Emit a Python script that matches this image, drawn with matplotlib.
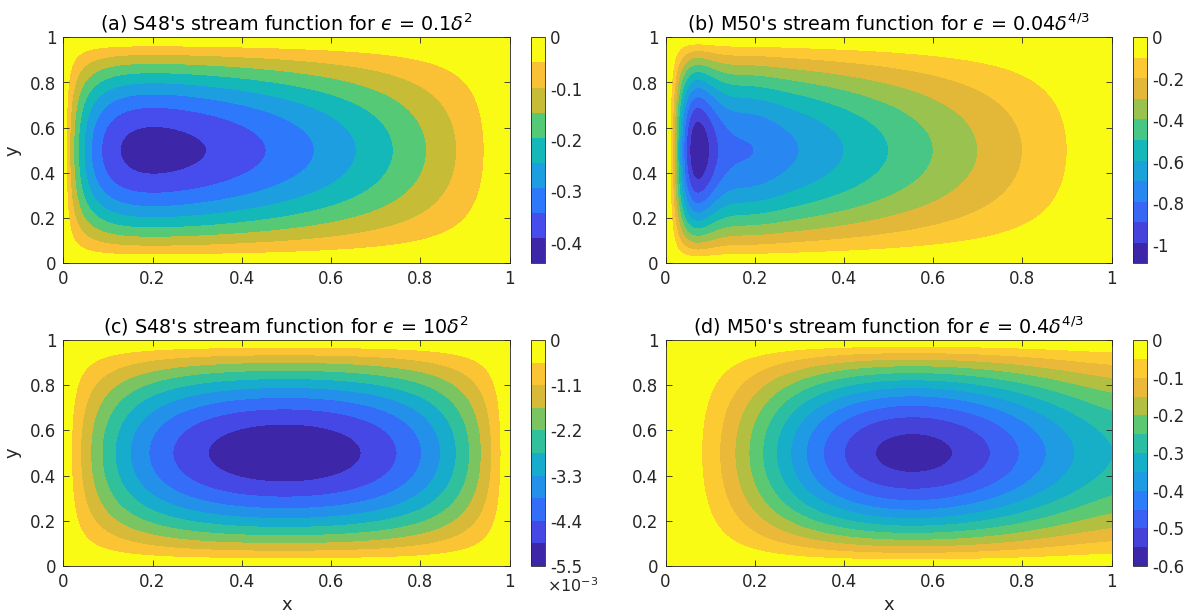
import numpy as np
import matplotlib
matplotlib.use('Agg')
import matplotlib.pyplot as plt
from matplotlib.colors import LinearSegmentedColormap, ListedColormap, Normalize
from matplotlib.cm import ScalarMappable

plt.rcParams['font.family'] = 'DejaVu Sans'
plt.rcParams['axes.unicode_minus'] = False

# panel settings
titles = ["(a) S48's stream function for $\u03f5$ = 0.1$\\delta^2$",
          "(b) M50's stream function for $\u03f5$ = 0.04$\\delta^{4/3}$",
          "(c) S48's stream function for $\u03f5$ = 10$\\delta^2$",
          "(d) M50's stream function for $\u03f5$ = 0.4$\\delta^{4/3}$"]
models = ['S48', 'M50', 'S48', 'M50']
friction = [0.068, 0.021, 6.8, 0.215]     # S48: eps, M50: boundary layer width
kappa = 1.5 * np.pi                        # zonal wavenumber used by S48
cbar_min = [-0.44, -1.09, -5.5e-3, -0.6]
levels = [
    [-0.44, -0.4, -0.35, -0.3, -0.25, -0.2, -0.15, -0.1, -0.05, 0],
    [-1.09, -1.0, -0.9, -0.8, -0.7, -0.6, -0.5, -0.4, -0.3, -0.2, -0.1, 0],
    [-5.5e-3, -4.95e-3, -4.4e-3, -3.85e-3, -3.3e-3, -2.75e-3, -2.2e-3,
     -1.65e-3, -1.1e-3, -0.55e-3, 0],
    [-0.6, -0.55, -0.5, -0.45, -0.4, -0.35, -0.3, -0.25, -0.2, -0.15,
     -0.1, -0.05, 0],
]
cbar_ticks = [
    [-0.4, -0.3, -0.2, -0.1, 0],
    [-1.0, -0.8, -0.6, -0.4, -0.2, 0],
    [-5.5e-3, -4.4e-3, -3.3e-3, -2.2e-3, -1.1e-3, 0],
    [-0.6, -0.5, -0.4, -0.3, -0.2, -0.1, 0],
]
cbar_labels = [
    ['-0.4', '-0.3', '-0.2', '-0.1', '0'],
    ['-1', '-0.8', '-0.6', '-0.4', '-0.2', '0'],
    ['-5.5', '-4.4', '-3.3', '-2.2', '-1.1', '0'],
    ['-0.6', '-0.5', '-0.4', '-0.3', '-0.2', '-0.1', '0'],
]
axis_ticks = [0, 0.2, 0.4, 0.6, 0.8, 1]
axis_ticklabels = ['0', '0.2', '0.4', '0.6', '0.8', '1']

# parula-like colormap
parula = LinearSegmentedColormap.from_list('parula', [
    (0.000, (0.243, 0.150, 0.660)),
    (0.125, (0.275, 0.300, 0.925)),
    (0.250, (0.180, 0.470, 0.985)),
    (0.375, (0.115, 0.620, 0.880)),
    (0.500, (0.075, 0.720, 0.730)),
    (0.625, (0.330, 0.790, 0.470)),
    (0.750, (0.770, 0.740, 0.210)),
    (0.800, (0.890, 0.720, 0.220)),
    (0.850, (0.970, 0.730, 0.240)),
    (0.900, (0.990, 0.780, 0.200)),
    (0.950, (0.965, 0.870, 0.150)),
    (1.000, (0.977, 0.984, 0.081)),
])


def stommel_x(x, eps):
    # eps*(X'' - k^2 X) + X' = 1, X(0) = X(1) = 0
    s = np.sqrt(1 + 4 * kappa ** 2 * eps ** 2)
    r1 = (-1 + s) / (2 * eps)
    r2 = (-1 - s) / (2 * eps)
    a, b = np.linalg.solve([[1, 1], [np.exp(r1), np.exp(r2)]], [1, 1])
    return -(1 - a * np.exp(r1 * x) - b * np.exp(r2 * x)) / (eps * kappa ** 2)


def munk_x(x, d):
    th = np.sqrt(3) * x / (2 * d)
    west = np.exp(-x / (2 * d)) * (np.cos(th) + (1 - 2 * d) / np.sqrt(3) * np.sin(th))
    return x - 1 + west - d * np.exp((x - 1) / d)


x = np.linspace(0, 1, 501)
y = np.linspace(0, 1, 501)
X, Y = np.meshgrid(x, y)

fig = plt.figure(figsize=(11.89, 6.14), dpi=100)
W, H = 1189.0, 614.0
ax_pos = [(63.3, 37.3), (665.5, 37.3), (63.3, 340.0), (665.5, 340.0)]
aw, ah = 446.2, 226.0
tc = (0.15, 0.15, 0.15)

for i in range(4):
    left, top = ax_pos[i]
    ax = fig.add_axes([left / W, 1 - (top + ah) / H, aw / W, ah / H])
    if models[i] == 'S48':
        prof = stommel_x(X, friction[i])
    else:
        prof = munk_x(X, friction[i])
    psi = np.minimum(prof * np.sin(np.pi * Y), 0)

    nb = len(levels[i]) - 1
    cols = [parula(k / (nb - 1)) for k in range(nb)]
    ax.contourf(X, Y, psi, levels=levels[i], colors=cols)

    ax.set_xlim(0, 1)
    ax.set_ylim(0, 1)
    ax.set_xticks(axis_ticks)
    ax.set_xticklabels(axis_ticklabels)
    ax.set_yticks(axis_ticks)
    ax.set_yticklabels(axis_ticklabels)
    ax.tick_params(direction='in', top=True, right=True, length=4, width=0.6,
                   color=tc, labelcolor=tc, labelsize=12, pad=5)
    for sp in ax.spines.values():
        sp.set_color(tc)
        sp.set_linewidth(0.6)
    ax.set_title(titles[i], fontsize=13.8, color='black', pad=5)
    if i % 2 == 0:
        ax.set_ylabel('y', fontsize=13, color=tc, labelpad=6)
    if i >= 2:
        ax.set_xlabel('x', fontsize=13, color=tc, labelpad=4)

    # colorbar with equal-height bands like the original
    cx = left + aw + 21.0
    cax = fig.add_axes([cx / W, 1 - (top + ah) / H, 14.0 / W, ah / H])
    sm = ScalarMappable(norm=Normalize(cbar_min[i], 0), cmap=ListedColormap(cols))
    cb = fig.colorbar(sm, cax=cax, ticks=cbar_ticks[i])
    cb.ax.set_yticklabels(cbar_labels[i])
    cb.ax.tick_params(direction='in', length=0, labelsize=12, labelcolor=tc, pad=4)
    cb.outline.set_edgecolor(tc)
    cb.outline.set_linewidth(0.6)
    if i == 2:
        cax.text(1.15, -0.085, r'$\times10^{-3}$', transform=cax.transAxes,
                 ha='left', va='center', fontsize=11.5, color=tc)

fig.savefig('out.png', dpi=100)
